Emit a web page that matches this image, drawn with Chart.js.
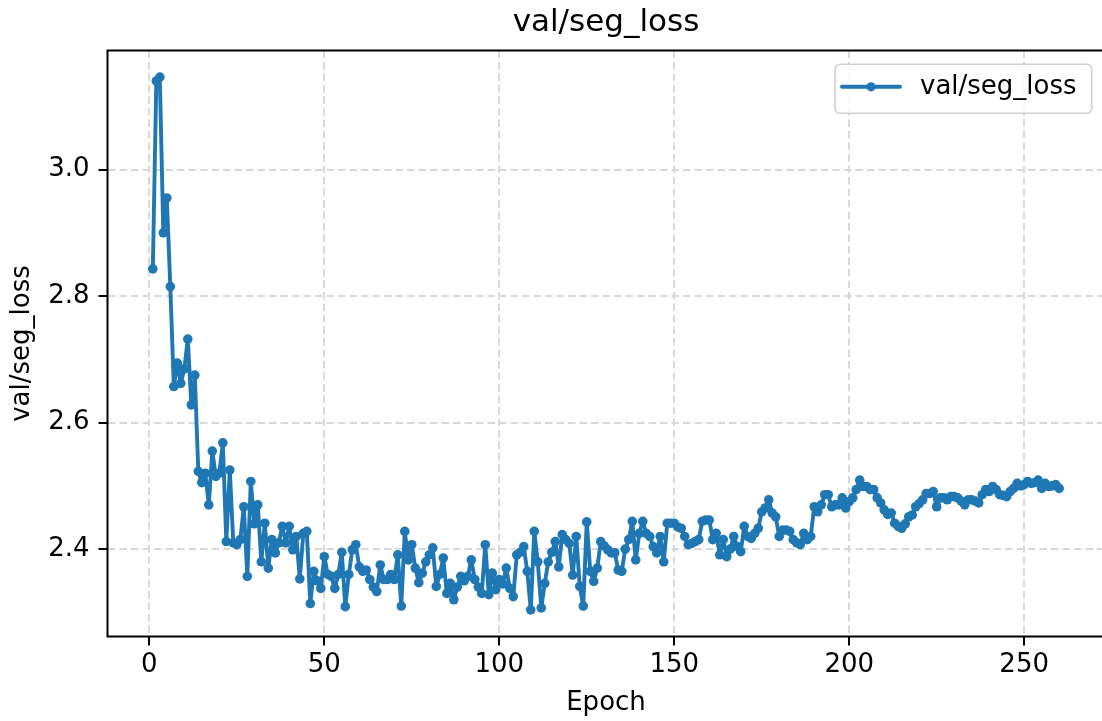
<!DOCTYPE html>
<html>
<head>
<meta charset="utf-8">
<title>val/seg_loss</title>
<script src="https://cdn.jsdelivr.net/npm/chart.js@4.4.1/dist/chart.umd.min.js"></script>
<style>
  html, body { margin: 0; padding: 0; background: #fff; overflow: hidden; }
  #wrap { position: relative; width: 1115px; height: 721px; }
</style>
</head>
<body>
<div id="wrap"><canvas id="lossChart"></canvas></div>
<script>
(function () {

// validation segmentation loss, one value per epoch starting at epoch 1
const firstEpoch = 1;
const segLoss = [
  2.843, 3.140, 3.146, 2.900, 2.955, 2.815, 2.657, 2.694, 2.662, 2.685,
  2.732, 2.628, 2.675, 2.523, 2.505, 2.520, 2.470, 2.555, 2.515, 2.520,
  2.568, 2.412, 2.525, 2.410, 2.407, 2.415, 2.467, 2.357, 2.507, 2.440,
  2.470, 2.380, 2.441, 2.370, 2.415, 2.394, 2.410, 2.436, 2.410, 2.436,
  2.399, 2.420, 2.353, 2.425, 2.428, 2.314, 2.365, 2.350, 2.338, 2.388,
  2.360, 2.357, 2.338, 2.360, 2.395, 2.309, 2.360, 2.399, 2.407, 2.372,
  2.365, 2.367, 2.352, 2.340, 2.333, 2.375, 2.352, 2.352, 2.360, 2.352,
  2.391, 2.310, 2.428, 2.383, 2.407, 2.370, 2.347, 2.362, 2.380, 2.391,
  2.402, 2.341, 2.360, 2.386, 2.330, 2.346, 2.320, 2.340, 2.357, 2.350,
  2.357, 2.383, 2.352, 2.340, 2.330, 2.407, 2.328, 2.362, 2.336, 2.352,
  2.345, 2.370, 2.338, 2.325, 2.391, 2.395, 2.404, 2.365, 2.304, 2.428,
  2.380, 2.307, 2.346, 2.380, 2.395, 2.412, 2.372, 2.423, 2.415, 2.409,
  2.359, 2.420, 2.341, 2.310, 2.443, 2.365, 2.349, 2.370, 2.412, 2.405,
  2.399, 2.394, 2.394, 2.367, 2.365, 2.400, 2.415, 2.444, 2.383, 2.425,
  2.444, 2.425, 2.420, 2.404, 2.394, 2.420, 2.380, 2.441, 2.441, 2.441,
  2.435, 2.433, 2.420, 2.407, 2.409, 2.412, 2.415, 2.444, 2.446, 2.446,
  2.415, 2.425, 2.391, 2.415, 2.388, 2.400, 2.420, 2.404, 2.396, 2.436,
  2.420, 2.417, 2.425, 2.433, 2.459, 2.465, 2.478, 2.457, 2.451, 2.420,
  2.430, 2.430, 2.428, 2.415, 2.410, 2.407, 2.425, 2.415, 2.420, 2.467,
  2.459, 2.470, 2.486, 2.486, 2.467, 2.470, 2.470, 2.481, 2.465, 2.475,
  2.481, 2.494, 2.509, 2.499, 2.499, 2.494, 2.494, 2.481, 2.473, 2.462,
  2.455, 2.457, 2.441, 2.436, 2.433, 2.440, 2.451, 2.454, 2.467, 2.472,
  2.478, 2.488, 2.488, 2.491, 2.467, 2.481, 2.481, 2.478, 2.483, 2.483,
  2.481, 2.476, 2.470, 2.478, 2.478, 2.476, 2.473, 2.486, 2.494, 2.491,
  2.499, 2.494, 2.486, 2.485, 2.483, 2.491, 2.496, 2.504, 2.500, 2.502,
  2.507, 2.504, 2.505, 2.509, 2.496, 2.504, 2.499, 2.500, 2.502, 2.496
];

const xTicks = [0, 50, 100, 150, 200, 250];
const yTicks = [2.4, 2.6, 2.8, 3.0];

const seriesName = "val/seg_loss";
const xTitle = "Epoch";
const yTitle = "val/seg_loss";

const FONT = "'DejaVu Sans', sans-serif";
const BLUE = "#1f77b4";

const points = segLoss.map((v, i) => ({ x: firstEpoch + i, y: v }));

// spines + legend box drawn on top of everything
const frame = {
  id: "frame",
  afterDraw(chart) {
    const { ctx, chartArea: a } = chart;
    ctx.save();
    ctx.strokeStyle = "#000";
    ctx.lineWidth = 2;
    ctx.strokeRect(a.left, a.top, a.right - a.left, a.bottom - a.top);

    // legend
    const bx = a.right - 269.5, by = a.top + 13.8, bw = 256.7, bh = 49, r = 5;
    ctx.beginPath();
    ctx.moveTo(bx + r, by);
    ctx.arcTo(bx + bw, by, bx + bw, by + bh, r);
    ctx.arcTo(bx + bw, by + bh, bx, by + bh, r);
    ctx.arcTo(bx, by + bh, bx, by, r);
    ctx.arcTo(bx, by, bx + bw, by, r);
    ctx.closePath();
    ctx.fillStyle = "rgba(255,255,255,0.8)";
    ctx.fill();
    ctx.strokeStyle = "#d0d0d0";
    ctx.lineWidth = 1.6;
    ctx.stroke();

    const ly = by + bh / 2 - 2;
    ctx.strokeStyle = BLUE;
    ctx.lineWidth = 3.9;
    ctx.lineCap = "round";
    ctx.beginPath();
    ctx.moveTo(bx + 7, ly);
    ctx.lineTo(bx + 65, ly);
    ctx.stroke();
    ctx.fillStyle = BLUE;
    ctx.beginPath();
    ctx.arc(bx + 36, ly, 4.6, 0, Math.PI * 2);
    ctx.fill();

    ctx.fillStyle = "#000";
    ctx.font = "26px " + FONT;
    ctx.textAlign = "left";
    ctx.textBaseline = "middle";
    ctx.fillText(seriesName, bx + 85, ly);
    ctx.restore();
  }
};

const ctx = document.getElementById("lossChart");
new Chart(ctx, {
  type: "line",
  data: {
    datasets: [{
      label: seriesName,
      data: points,
      borderColor: BLUE,
      backgroundColor: BLUE,
      borderWidth: 3.9,
      borderJoinStyle: "round",
      borderCapStyle: "round",
      pointRadius: 4.8,
      pointBorderWidth: 0,
      pointBackgroundColor: BLUE,
      tension: 0,
      parsing: false
    }]
  },
  options: {
    responsive: true,
    maintainAspectRatio: false,
    animation: false,
    devicePixelRatio: 1,
    layout: { padding: { left: 0, right: 10.5, top: 0, bottom: 0 } },
    plugins: {
      legend: { display: false },
      tooltip: { enabled: false },
      title: {
        display: true,
        text: seriesName,
        fullSize: false,
        color: "#000",
        font: { family: FONT, size: 31, weight: "normal", lineHeight: 1.2 },
        padding: { top: 4, bottom: 9.3 }
      }
    },
    scales: {
      x: {
        type: "linear",
        min: -11.95,
        max: 272.95,
        afterFit(s) { s.height = 84.5; },
        afterBuildTicks(s) { s.ticks = xTicks.map(v => ({ value: v })); },
        ticks: {
          color: "#000",
          padding: 4,
          maxRotation: 0,
          font: { family: FONT, size: 26 },
          callback: v => String(v)
        },
        grid: {
          color: "#d9d9d9",
          lineWidth: 2,
          tickColor: "#000",
          tickWidth: 2,
          tickLength: 9,
          tickBorderDash: []
        },
        border: { display: false, dash: [7.5, 4] },
        title: {
          display: true,
          text: xTitle,
          color: "#000",
          font: { family: FONT, size: 26, lineHeight: 1.2 },
          padding: { top: 0, bottom: 2 }
        }
      },
      y: {
        min: 2.2619,
        max: 3.1881,
        afterFit(s) { s.width = 107.5; },
        afterBuildTicks(s) { s.ticks = yTicks.map(v => ({ value: v })); },
        ticks: {
          color: "#000",
          padding: 9,
          font: { family: FONT, size: 26 },
          callback: v => v.toFixed(1)
        },
        grid: {
          color: "#d9d9d9",
          lineWidth: 2,
          tickColor: "#000",
          tickWidth: 2,
          tickLength: 9,
          tickBorderDash: []
        },
        border: { display: false, dash: [7.5, 4] },
        title: {
          display: true,
          text: yTitle,
          color: "#000",
          font: { family: FONT, size: 26, lineHeight: 1.2 },
          padding: { top: 7, bottom: 0 }
        }
      }
    }
  },
  plugins: [frame]
});

})();
</script>
</body>
</html>
